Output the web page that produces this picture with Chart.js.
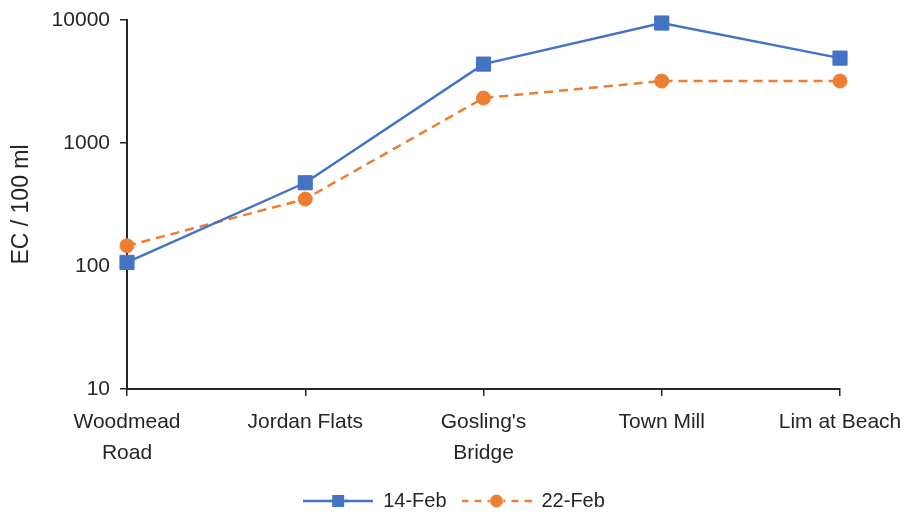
<!DOCTYPE html>
<html>
<head>
<meta charset="utf-8">
<script src="https://cdn.jsdelivr.net/npm/chart.js@4"></script>
<style>
  html, body { margin: 0; padding: 0; background: #fff; }
  #wrap { width: 908px; height: 521px; position: relative; }
</style>
</head>
<body>
<div id="wrap"><canvas id="chart"></canvas></div>
<script>
const sites = [["Woodmead", "Road"], "Jordan Flats", ["Gosling's", "Bridge"], "Town Mill", "Lim at Beach"];
const feb14 = [107, 475, 4380, 9450, 4900];
const feb22 = [146, 350, 2320, 3190, 3190];
const yTicks = [10, 100, 1000, 10000];

const BLUE = "#4472C4";
const ORANGE = "#ED7D31";
const INK = "#262626";
const FONT = '"Liberation Sans", Arial, sans-serif';

// excel-like legend symbol: line with marker in the middle
function legendIcon(color, dashed, shape) {
  const c = document.createElement("canvas");
  c.width = 70; c.height = 18;
  const g = c.getContext("2d");
  g.strokeStyle = color; g.lineWidth = 2.5;
  if (dashed) g.setLineDash([7, 6]);
  g.beginPath(); g.moveTo(0, 9); g.lineTo(28, 9); g.stroke();
  g.beginPath(); g.moveTo(70, 9); g.lineTo(42, 9); g.stroke();
  g.setLineDash([]);
  if (!dashed) { g.beginPath(); g.moveTo(26, 9); g.lineTo(44, 9); g.stroke(); }
  g.fillStyle = color;
  if (shape === "rect") g.fillRect(29, 3, 12, 12);
  else { g.beginPath(); g.arc(35, 9, 6.5, 0, Math.PI * 2); g.fill(); }
  return c;
}
const icons = [legendIcon(BLUE, false, "rect"), legendIcon(ORANGE, true, "circle")];

const axisGrid = { drawOnChartArea: false, drawTicks: true, tickLength: 7, color: INK, lineWidth: 1.5 };
const axisBorder = { display: true, color: INK, width: 2 };

new Chart(document.getElementById("chart"), {
  type: "line",
  data: {
    labels: sites,
    datasets: [
      {
        label: "14-Feb",
        data: feb14,
        borderColor: BLUE,
        backgroundColor: BLUE,
        borderWidth: 2.5,
        pointStyle: "rect",
        pointRadius: 10,
        pointBorderWidth: 1,
        pointBackgroundColor: BLUE,
        pointBorderColor: BLUE,
        tension: 0,
        clip: false
      },
      {
        label: "22-Feb",
        data: feb22,
        borderColor: ORANGE,
        backgroundColor: ORANGE,
        borderWidth: 2.5,
        borderDash: [9, 6],
        pointStyle: "circle",
        pointRadius: 7,
        pointBorderWidth: 1,
        pointBackgroundColor: ORANGE,
        pointBorderColor: ORANGE,
        tension: 0,
        clip: false
      }
    ]
  },
  options: {
    responsive: true,
    maintainAspectRatio: false,
    animation: false,
    layout: { padding: { left: 0, right: 0, top: 20, bottom: 0 } },
    scales: {
      x: {
        type: "category",
        offset: false,
        grid: axisGrid,
        border: axisBorder,
        ticks: {
          color: INK,
          font: { family: FONT, size: 21, lineHeight: 1.5 },
          padding: 10,
          maxRotation: 0,
          autoSkip: false
        },
        afterFit: s => { s.height = 87; s.paddingLeft = 0; s.paddingRight = 0; }
      },
      y: {
        type: "logarithmic",
        min: 10,
        max: 10000,
        grid: axisGrid,
        border: axisBorder,
        ticks: {
          color: INK,
          font: { family: FONT, size: 21 },
          padding: 10,
          callback: v => String(v)
        },
        afterBuildTicks: s => { s.ticks = yTicks.map(v => ({ value: v })); },
        afterFit: s => { s.width = 127; s.paddingTop = 0; s.paddingBottom = 0; },
        title: {
          display: true,
          text: "EC / 100 ml",
          color: INK,
          font: { family: FONT, size: 23 },
          padding: { top: 8, bottom: 0 }
        }
      },
      // empty right-hand box, keeps room for the last label and centres the legend
      spacer: {
        type: "linear",
        position: "right",
        display: true,
        grid: { display: false },
        border: { display: false },
        ticks: { display: false },
        afterFit: s => { s.width = 68; s.paddingTop = 0; s.paddingBottom = 0; }
      }
    },
    plugins: {
      legend: {
        position: "bottom",
        labels: {
          usePointStyle: true,
          pointStyleWidth: 70,
          color: INK,
          font: { family: FONT, size: 20 },
          padding: 15,
          generateLabels: chart => {
            const items = Chart.defaults.plugins.legend.labels.generateLabels(chart);
            items.forEach((it, i) => { it.pointStyle = icons[i]; });
            return items;
          }
        }
      },
      tooltip: { enabled: false }
    }
  }
});
</script>
</body>
</html>
